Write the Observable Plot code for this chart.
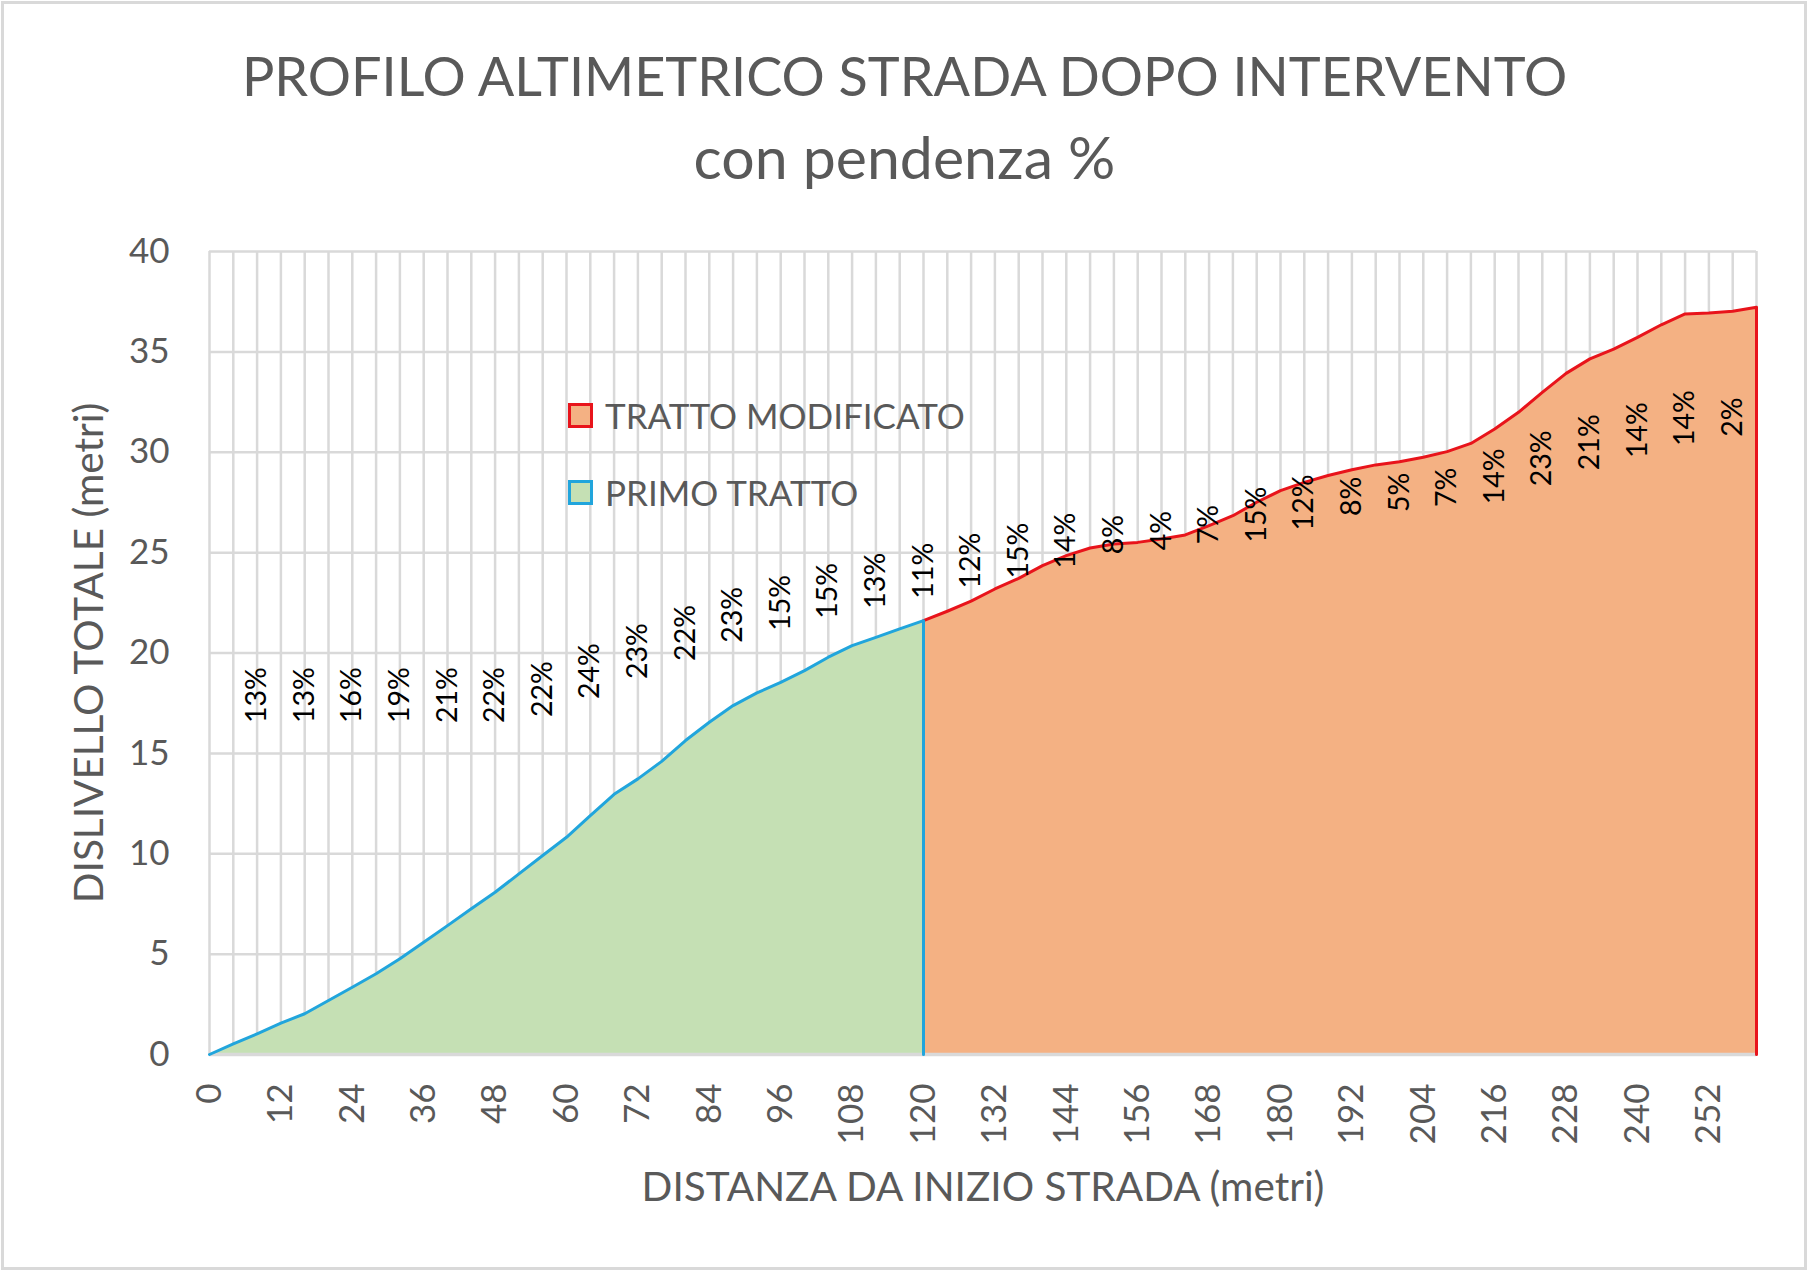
<!DOCTYPE html>
<html>
<head>
<meta charset="utf-8">
<script src="https://cdn.jsdelivr.net/npm/d3@7"></script>
<script src="https://cdn.jsdelivr.net/npm/@observablehq/plot@0.6"></script>
<style>
  html, body { margin: 0; padding: 0; background: #ffffff; }
  #wrap { position: relative; width: 1809px; height: 1273px; overflow: hidden; font-family: Lato, "Open Sans", sans-serif; }
  #frame { position: absolute; left: 1px; top: 1px; width: 1806px; height: 1269px; box-sizing: border-box; border: 3px solid #d9d9d9; pointer-events: none; }
  #header { position: relative; height: 200px; }
  .ttl { position: absolute; left: 0; width: 1809px; text-align: center; color: #595959; white-space: nowrap; }
  #t1 { top: 49px; font-size: 54px; line-height: 54px; }
  #t2 { top: 127px; font-size: 59px; line-height: 59px; }
  #legend { position: absolute; left: 568px; top: 399px; color: #595959; font-size: 35px; }
  .item { position: absolute; left: 0; height: 34px; white-space: nowrap; }
  .sw { position: absolute; left: 0; top: 4px; width: 25px; height: 25px; box-sizing: border-box; border: 3.5px solid; }
  .lab { position: absolute; left: 37px; top: -4px; line-height: 40px; }
</style>
</head>
<body>
<div id="wrap">
  <div id="header">
    <div class="ttl" id="t1">PROFILO ALTIMETRICO STRADA DOPO INTERVENTO</div>
    <div class="ttl" id="t2">con pendenza %</div>
  </div>
  <div id="chart"></div>
  <div id="legend"></div>
  <div id="frame"></div>
</div>
<script>
// Distance from start of road (m), category positions
const distanze = [0,4,8,12,16,20,24,28,32,36,40,44,48,52,56,60,64,68,72,76,80,84,88,92,96,100,
  104,108,112,116,120,124,128,132,136,140,144,148,152,156,160,164,168,172,176,180,184,188,192,196,200,
  204,208,212,216,220,224,228,232,236,240,244,248,252,256,260];
// Total height difference (m)
const dislivello = [0,0.53,1.03,1.56,2.03,2.69,3.35,4.02,4.77,5.59,6.42,7.26,8.08,9.0,9.91,10.82,
  11.9,12.96,13.73,14.6,15.64,16.55,17.38,18.01,18.54,19.12,19.79,20.37,20.78,21.2,21.61,
  22.08,22.58,23.19,23.72,24.35,24.85,25.23,25.43,25.51,25.68,25.88,26.35,26.84,27.51,28.09,
  28.5,28.84,29.13,29.37,29.53,29.75,30.03,30.44,31.16,31.99,32.98,33.93,34.65,35.14,35.72,
  36.35,36.89,36.94,37.02,37.22];
// End of the first stretch (m)
const fineprimoTratto = 120;

// Slope labels (pendenza %)
const pendenzaX = [8,16,24,32,40,48,56,64,72,80,88,96,104,112,120,128,136,144,152,160,168,176,184,192,200,208,216,224,232,240,248,256];
const pendenzaTesto = ["13%","13%","16%","19%","21%","22%","22%","24%","23%","22%","23%","15%","15%","13%","11%",
  "12%","15%","14%","8%","4%","7%","15%","12%","8%","5%","7%","14%","23%","21%","14%","14%","2%"];
const pendenzaY = [17.9,17.9,17.9,17.9,17.9,17.9,18.2,19.1,20.1,21.0,21.9,22.5,23.1,23.6,24.1,
  24.6,25.1,25.6,25.9,26.1,26.4,26.9,27.5,27.8,28.0,28.25,28.8,29.7,30.5,31.1,31.7,31.75];

// Axis ticks
const yTicks = [0,5,10,15,20,25,30,35,40];
const xTickLabels = [0,12,24,36,48,60,72,84,96,108,120,132,144,156,168,180,192,204,216,228,240,252];

// Series
const serieNomi = ["TRATTO MODIFICATO", "PRIMO TRATTO"];
const serieFill = ["#f4b183", "#c5e0b4"];
const serieStroke = ["#e8141b", "#21a5dc"];

const pts = distanze.map((d, i) => ({x: d, y: dislivello[i]}));
const primo = pts.filter(p => p.x <= fineprimoTratto);
const modificato = pts.filter(p => p.x >= fineprimoTratto);
const withDrop = arr => arr.concat([{x: arr[arr.length - 1].x, y: 0}]);
const etichette = pendenzaX.map((x, i) => ({x, y: pendenzaY[i], t: pendenzaTesto[i]}));

const FONT = "Lato, 'Open Sans', sans-serif";
const GRID = "#d9d9d9";
const TXT = "#595959";

const chart = Plot.plot({
  width: 1809,
  height: 1073,
  marginTop: 51,
  marginBottom: 219,
  marginLeft: 209,
  marginRight: 53,
  style: {fontFamily: FONT, background: "transparent", overflow: "visible"},
  x: {domain: [0, 260], axis: null},
  y: {domain: [0, 40], axis: null},
  marks: [
    Plot.ruleY(yTicks, {stroke: GRID, strokeWidth: 2.5}),
    Plot.ruleX(distanze, {stroke: GRID, strokeWidth: 2.5}),
    Plot.areaY(primo, {x: "x", y: "y", fill: serieFill[1], curve: "linear"}),
    Plot.areaY(modificato, {x: "x", y: "y", fill: serieFill[0], curve: "linear"}),
    Plot.ruleY([0], {stroke: GRID, strokeWidth: 3.5}),
    Plot.line(withDrop(modificato), {x: "x", y: "y", stroke: serieStroke[0], strokeWidth: 3}),
    Plot.line(withDrop(primo), {x: "x", y: "y", stroke: serieStroke[1], strokeWidth: 3}),
    Plot.text(etichette, {x: "x", y: "y", text: "t", rotate: -90, textAnchor: "middle", lineAnchor: "middle",
      fill: "#000000", fontSize: 28.5, fontFamily: FONT}),
    Plot.axisY(yTicks, {tickSize: 0, tickPadding: 40, fontSize: 35, color: TXT, fontFamily: FONT, label: null}),
    Plot.text(xTickLabels, {x: d => d, frameAnchor: "bottom", dy: 29, rotate: -90, textAnchor: "end",
      lineAnchor: "middle", fill: TXT, fontSize: 35, fontFamily: FONT, text: d => String(d)}),
    Plot.text(["DISLIVELLO TOTALE (metri)"], {frameAnchor: "left", dx: -119, rotate: -90, textAnchor: "middle",
      lineAnchor: "middle", fill: TXT, fontSize: 40.5, fontFamily: FONT}),
    Plot.text(["DISTANZA DA INIZIO STRADA (metri)"], {frameAnchor: "bottom", dy: 134, textAnchor: "middle",
      lineAnchor: "middle", fill: TXT, fontSize: 40.5, fontFamily: FONT})
  ]
});
document.getElementById("chart").appendChild(chart);

// Legend (series order as in the reference)
const legend = document.getElementById("legend");
serieNomi.forEach((n, i) => {
  const it = document.createElement("div");
  it.className = "item";
  it.style.top = (i * 77) + "px";
  const sw = document.createElement("div");
  sw.className = "sw";
  sw.style.background = serieFill[i];
  sw.style.borderColor = serieStroke[i];
  const lb = document.createElement("div");
  lb.className = "lab";
  lb.textContent = n;
  it.appendChild(sw);
  it.appendChild(lb);
  legend.appendChild(it);
});
</script>
</body>
</html>
